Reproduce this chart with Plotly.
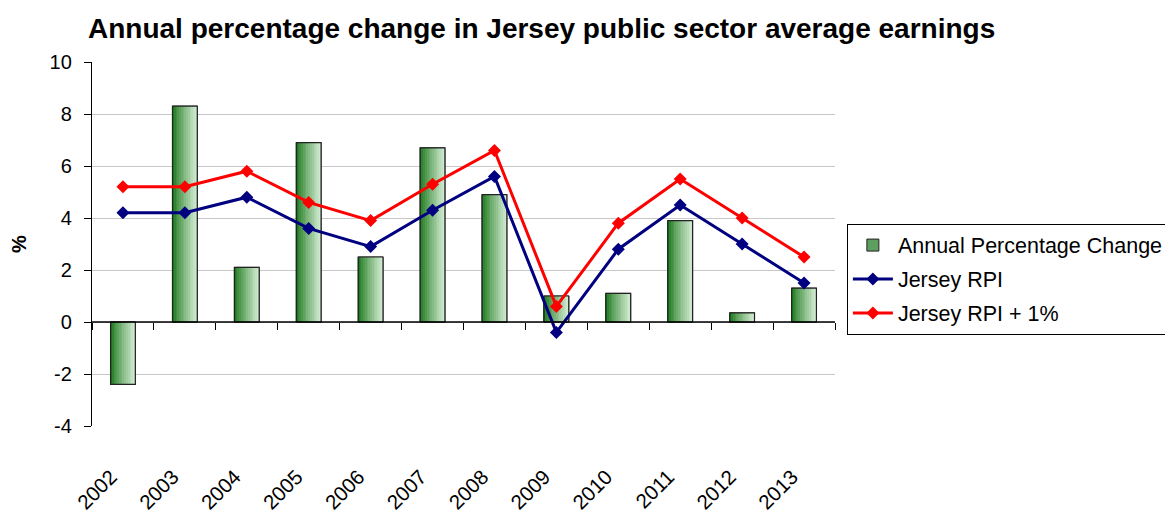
import plotly.graph_objects as go

years = ["2002", "2003", "2004", "2005", "2006", "2007", "2008", "2009", "2010", "2011", "2012", "2013"]
annual_change = [-2.4, 8.3, 2.1, 6.9, 2.5, 6.7, 4.9, 1.0, 1.1, 3.9, 0.35, 1.3]
jersey_rpi = [4.2, 4.2, 4.8, 3.6, 2.9, 4.3, 5.6, -0.4, 2.8, 4.5, 3.0, 1.5]
jersey_rpi_plus1 = [5.2, 5.2, 5.8, 4.6, 3.9, 5.3, 6.6, 0.6, 3.8, 5.5, 4.0, 2.5]
y_ticks = [-4, -2, 0, 2, 4, 6, 8, 10]
y_tick_text = ["-4", "-2", "0", "2", "4", "6", "8", "10"]

FONT = "Arial, Liberation Sans, sans-serif"
BAR_W = 0.4
N_STRIPS = 14

def lerp(c1, c2, t):
    return "rgb(%d,%d,%d)" % tuple(round(a + (b - a) * t) for a, b in zip(c1, c2))

dark = (14, 112, 14)
light = (212, 236, 212)

fig = go.Figure()

# legend entry bar (underneath)
fig.add_trace(go.Bar(
    x=years, y=annual_change, width=BAR_W, name="Annual Percentage Change",
    marker=dict(color="#5e9e5e", line=dict(color="#222", width=1)),
    legendgroup="a", hoverinfo="skip"))

# gradient strips
sw = BAR_W / N_STRIPS
for i in range(N_STRIPS):
    t = (i + 0.5) / N_STRIPS
    fig.add_trace(go.Bar(
        x=years, y=annual_change, width=sw * 1.05, offset=-BAR_W / 2 + i * sw,
        marker=dict(color=lerp(dark, light, t ** 0.8), line=dict(width=0)),
        showlegend=False, hoverinfo="skip"))

# outline on top
fig.add_trace(go.Bar(
    x=years, y=annual_change, width=BAR_W,
    marker=dict(color="rgba(0,0,0,0)", line=dict(color="#222", width=1.2)),
    showlegend=False, name="Annual Percentage Change"))

fig.add_trace(go.Scatter(
    x=years, y=jersey_rpi, name="Jersey RPI", mode="lines+markers",
    line=dict(color="#000080", width=3),
    marker=dict(symbol="diamond", size=10, color="#000080"),
    legendgroup="b"))
fig.add_trace(go.Scatter(
    x=years, y=jersey_rpi_plus1, name="Jersey RPI + 1%", mode="lines+markers",
    line=dict(color="#ff0000", width=3),
    marker=dict(symbol="diamond", size=10, color="#ff0000"),
    legendgroup="c"))

# helper trace for the zero-line axis with boundary ticks
fig.add_trace(go.Scatter(
    x=[-0.5, len(years) - 0.5], y=[0, 0], xaxis="x2", mode="lines",
    line=dict(color="black", width=1.3), showlegend=False, hoverinfo="skip"))

# page body has an 8px margin; figure is sized to fill the rest of the window
W, H = 1165, 505
fig.update_layout(
    width=W, height=H,
    margin=dict(l=84, r=338, t=54, b=87, autoexpand=False),
    paper_bgcolor="white", plot_bgcolor="white",
    barmode="overlay",
    font=dict(family=FONT, size=20, color="black"),
    title=dict(text="<b>Annual percentage change in Jersey public sector average earnings</b>",
               x=80 / W, xanchor="left", y=1 - 20 / H, yanchor="middle",
               font=dict(family=FONT, size=28, color="black")),
    xaxis=dict(type="category", range=[-0.5, len(years) - 0.5], showline=False,
               showgrid=False, ticks="", tickangle=-45, tickfont=dict(size=20.5),
               ticklabelstandoff=34, ticklabelshift=-12, automargin=False),
    xaxis2=dict(overlaying="x", anchor="free", position=4 / 14, range=[-0.5, len(years) - 0.5],
                tickvals=[i - 0.5 for i in range(len(years) + 1)], showticklabels=False,
                ticks="outside", ticklen=7, tickcolor="black", tickwidth=1.3,
                showline=False, showgrid=False, zeroline=False, automargin=False),
    yaxis=dict(range=[-4, 10], tickvals=y_ticks, ticktext=y_tick_text,
               showgrid=True, gridcolor="#c8c8c8", automargin=False,
               gridwidth=1, zeroline=False, showline=True, linecolor="black", linewidth=1.3,
               ticks="outside", ticklen=7, tickcolor="black", tickwidth=1.3,
               tickfont=dict(size=20), ticklabelstandoff=8,
               title=dict(text="<b>%</b>", font=dict(size=20), standoff=17)),
    legend=dict(x=1.016, xanchor="left", y=0.556, yanchor="top",
                bordercolor="black", borderwidth=1, bgcolor="white",
                font=dict(size=21.5), itemwidth=40, tracegroupgap=3,
                traceorder="grouped"),
    showlegend=True,
)

fig.write_html("out.html")
